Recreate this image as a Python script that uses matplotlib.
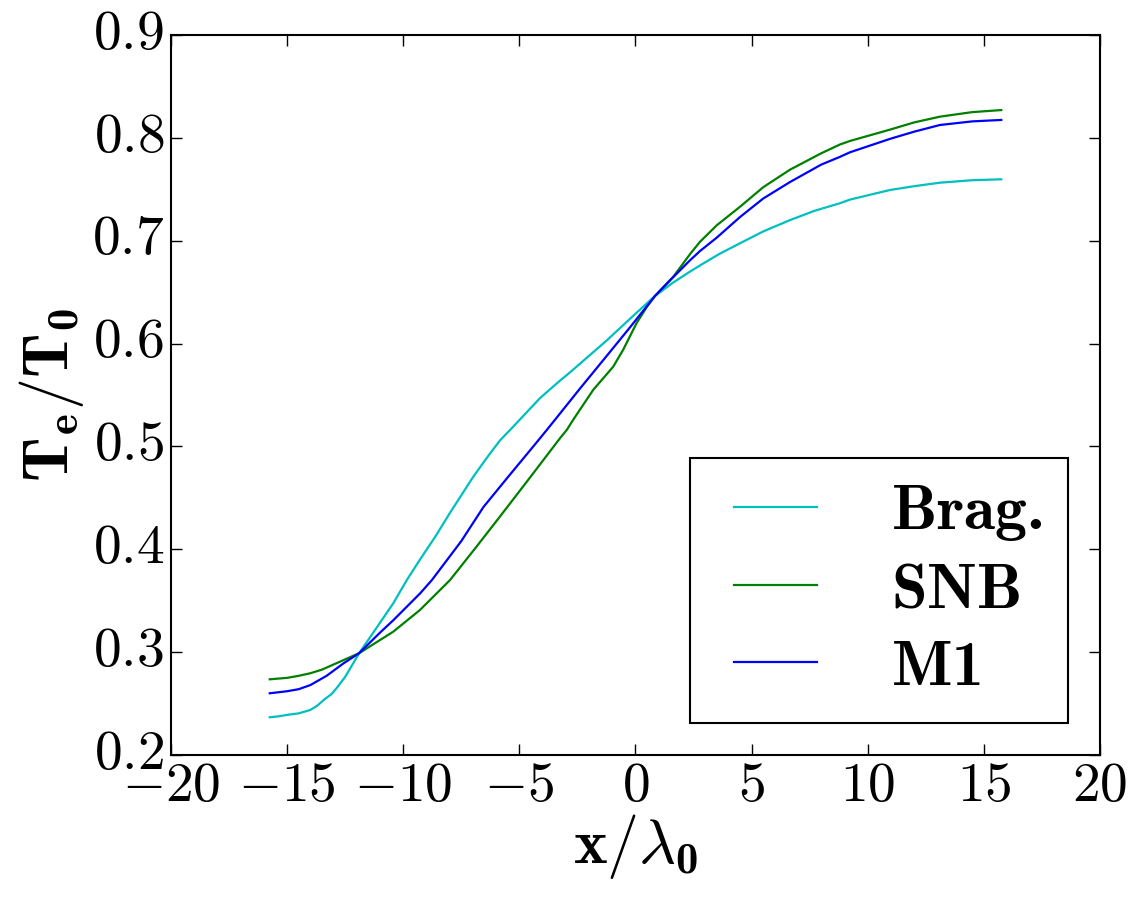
import matplotlib
matplotlib.use("Agg")
import matplotlib.pyplot as plt

plt.style.use('classic')
matplotlib.rcParams['mathtext.fontset'] = 'custom'
matplotlib.rcParams['mathtext.rm'] = 'cmr10'
matplotlib.rcParams['mathtext.it'] = 'cmmi10'
matplotlib.rcParams['mathtext.bf'] = 'cmb10'
matplotlib.rcParams['mathtext.fallback'] = 'cm'
matplotlib.rcParams['font.family'] = 'serif'
matplotlib.rcParams['font.serif'] = ['cmr10', 'DejaVu Serif']
matplotlib.rcParams['axes.formatter.use_mathtext'] = True
matplotlib.rcParams['axes.unicode_minus'] = True

# Brag. (cyan)
x_brag = [-15.75, -15.4, -15.0, -14.5, -14.0, -13.7, -13.4, -13.1, -12.87, -12.5, -11.9,
          -11.2, -10.43, -9.85, -9.28, -8.6, -8.0, -7.0, -6.4, -5.83, -5.4, -4.11, -3.25,
          -2.82, -1.24, -0.67, 0.0, 0.84, 1.6, 2.35, 2.78, 3.6, 4.5, 5.5, 6.65, 7.7, 8.8,
          9.24, 10.96, 12.0, 13.11, 14.5, 15.75]
te_brag = [0.2367, 0.2375, 0.239, 0.2405, 0.2438, 0.248, 0.254, 0.259, 0.265, 0.276, 0.299,
           0.322, 0.3475, 0.370, 0.390, 0.413, 0.435, 0.470, 0.489, 0.506, 0.516, 0.547, 0.564,
           0.572, 0.603, 0.615, 0.629, 0.6463, 0.659, 0.670, 0.676, 0.687, 0.6975, 0.709, 0.720, 0.729, 0.7364,
           0.740, 0.7493, 0.753, 0.7564, 0.7588, 0.7597]

# SNB (green)
x_snb = [-15.75, -15.0, -14.5, -14.0, -13.5, -12.9, -11.9, -10.43, -9.28, -7.99, -6.9, -5.83,
         -4.5, -3.25, -2.96, -2.68, -1.82, -0.96, -0.53, 0.05, 0.5, 0.84, 1.2, 1.63, 2.35,
         2.78, 3.5, 4.5, 5.5, 6.65, 8.0, 8.8, 9.24, 10.96, 12.0, 13.11, 14.5, 15.75]
te_snb = [0.2736, 0.275, 0.277, 0.2795, 0.283, 0.289, 0.299, 0.3199, 0.341, 0.370, 0.401, 0.432,
          0.471, 0.508, 0.516, 0.526, 0.555, 0.5775, 0.594, 0.620, 0.636, 0.6463, 0.655, 0.665, 0.687,
          0.699, 0.715, 0.733, 0.752, 0.769, 0.785, 0.7935, 0.797, 0.808, 0.815, 0.8206, 0.825, 0.827]

# M1 (blue)
x_m1 = [-15.75, -15.0, -14.5, -14.0, -13.3, -12.58, -11.9, -11.0, -10.43, -9.28, -8.77, -7.5,
        -6.55, -5.5, -4.4, -3.82, -3.25, -2.4, -1.24, -0.3, 0.62, 0.84, 1.6, 2.35, 2.78, 3.5,
        4.5, 5.5, 6.65, 8.0, 8.8, 9.24, 10.96, 12.0, 13.11, 14.5, 15.75]
te_m1 = [0.260, 0.262, 0.264, 0.268, 0.277, 0.289, 0.299, 0.319, 0.331, 0.357, 0.370, 0.408,
         0.441, 0.470, 0.500, 0.516, 0.532, 0.556, 0.588, 0.614, 0.640, 0.6463, 0.664, 0.681, 0.690,
         0.703, 0.723, 0.741, 0.757, 0.774, 0.7815, 0.786, 0.799, 0.806, 0.8125, 0.816, 0.8174]

fig = plt.figure(figsize=(11.44, 8.97), dpi=100, facecolor='white')
ax = fig.add_axes([0.1495, 0.1583, 0.812, 0.8027])

ax.plot(x_brag, te_brag, color='c', lw=1.6, label=r'$\mathbf{Brag.}$')
ax.plot(x_snb, te_snb, color='g', lw=1.6, label=r'$\mathbf{SNB}$')
ax.plot(x_m1, te_m1, color='b', lw=1.6, label=r'$\mathbf{M1}$')

ax.set_xlim(-20, 20)
ax.set_ylim(0.2, 0.9)
ax.set_xticks([-20, -15, -10, -5, 0, 5, 10, 15, 20])
ax.set_yticks([0.2, 0.3, 0.4, 0.5, 0.6, 0.7, 0.8, 0.9])
ax.tick_params(labelsize=40, length=8, width=1, pad=5)
for s in ax.spines.values():
    s.set_linewidth(1.5)

ax.set_xlabel(r'$\mathbf{x}/\lambda_\mathbf{0}$', fontsize=46, labelpad=0)
ax.set_ylabel(r'$\mathbf{T}_\mathbf{e}/\mathbf{T}_\mathbf{0}$', fontsize=46, labelpad=4)

leg = ax.legend(loc='lower right', fontsize=46, handlelength=1.9, borderaxespad=0.5,
                handletextpad=0.85, labelspacing=0.3, borderpad=0.4)
leg.get_frame().set_linewidth(1.5)
leg.get_frame().set_edgecolor('black')

fig.savefig('out.png', dpi=100, facecolor='white')
